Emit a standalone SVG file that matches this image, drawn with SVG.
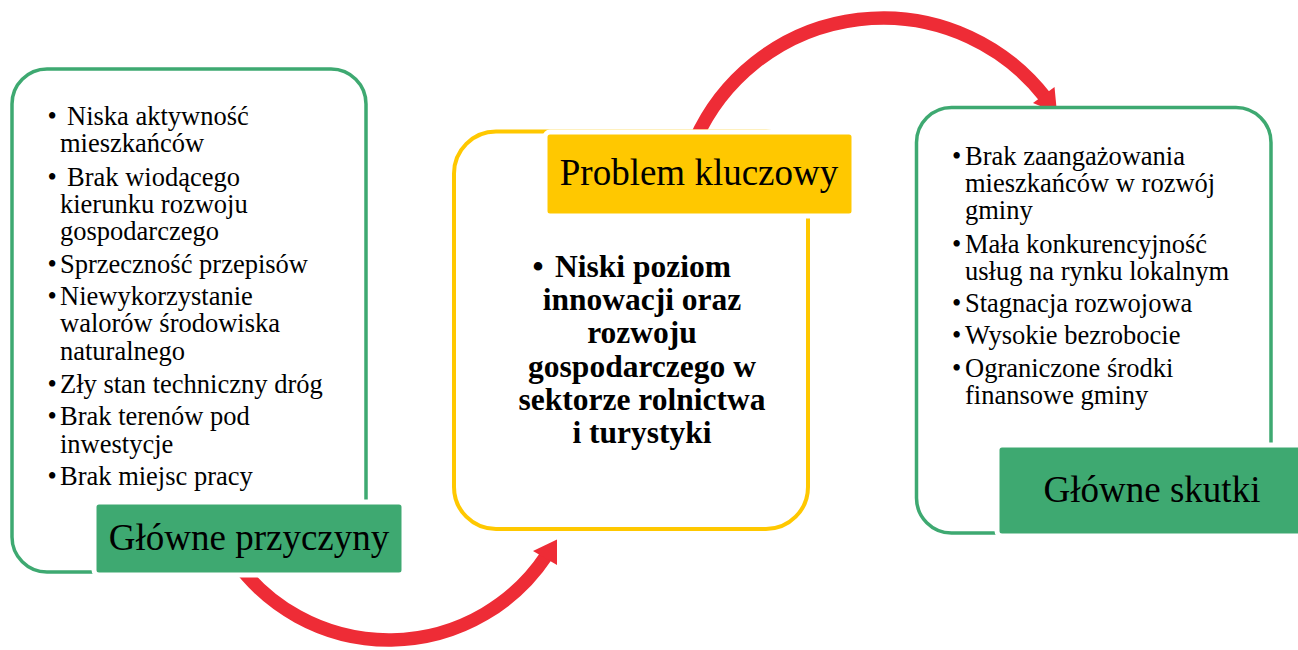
<svg xmlns="http://www.w3.org/2000/svg" width="1298" height="650" viewBox="0 0 1298 650" font-family="Liberation Serif, Tinos, Times New Roman, DejaVu Serif, serif">
  <style>
    .outline-g { fill: #ffffff; stroke: #3ea971; stroke-width: 3.5; }
    .outline-y { fill: #ffffff; stroke: #ffc800; stroke-width: 4; }
    .label-g { fill: #3ea971; stroke: #ffffff; stroke-width: 5; }
    .label-y { fill: #ffc800; stroke: #ffffff; stroke-width: 5; }
    .label-text { font-size: 37px; fill: #000000; text-anchor: middle; }
    .item { font-size: 26.5px; fill: #000000; }
    .key { font-size: 31.5px; font-weight: bold; fill: #000000; text-anchor: middle; }
    .arc { fill: none; stroke: #ee2c36; stroke-width: 13.5; }
    .head { fill: #ee2c36; stroke: none; }
  </style>

  <g id="connectors">
    <path class="arc" d="M234.2,559.4 A189,189 0 0 0 546.6,555.3"/>
    <polygon class="head" points="533,551 557,565 557,539.5"/>
    <path class="arc" d="M695.2,140 A205.6,205.6 0 0 1 1045.7,97.9"/>
    <polygon class="head" points="1033,103 1054.5,87 1057,113"/>
  </g>

  <g id="causes">
    <rect class="outline-g" x="12" y="69" width="354" height="503" rx="35" ry="35"/>
    <rect class="label-g" x="94" y="502" width="310" height="73" rx="5" ry="5"/>
    <text class="label-text" x="249" y="550">Główne przyczyny</text>
    <g class="item">
      <text x="47.5" y="125">•</text><text x="67" y="125">Niska aktywność</text>
      <text x="60" y="152">mieszkańców</text>
      <text x="47.5" y="186">•</text><text x="67" y="186">Brak wiodącego</text>
      <text x="60" y="213">kierunku rozwoju</text>
      <text x="60" y="239.5">gospodarczego</text>
      <text x="47.5" y="272.5">•</text><text x="60" y="272.5">Sprzeczność przepisów</text>
      <text x="47.5" y="304.5">•</text><text x="60" y="304.5">Niewykorzystanie</text>
      <text x="60" y="332">walorów środowiska</text>
      <text x="60" y="359.5">naturalnego</text>
      <text x="47.5" y="393">•</text><text x="60" y="393">Zły stan techniczny dróg</text>
      <text x="47.5" y="425">•</text><text x="60" y="425">Brak terenów pod</text>
      <text x="60" y="452.5">inwestycje</text>
      <text x="47.5" y="485">•</text><text x="60" y="485">Brak miejsc pracy</text>
    </g>
  </g>

  <g id="key-problem">
    <rect class="outline-y" x="454" y="131.5" width="354" height="397.5" rx="42" ry="42"/>
    <rect class="label-y" x="545" y="132" width="309" height="84" rx="5" ry="5"/>
    <text class="label-text" x="699" y="185">Problem kluczowy</text>
    <text class="key" x="538" y="277">•</text>
    <text class="key" x="555" y="277" style="text-anchor:start">Niski poziom</text>
    <text class="key" x="642" y="310">innowacji oraz</text>
    <text class="key" x="642" y="343">rozwoju</text>
    <text class="key" x="642" y="377">gospodarczego w</text>
    <text class="key" x="642" y="410">sektorze rolnictwa</text>
    <text class="key" x="642" y="443">i turystyki</text>
  </g>

  <g id="effects">
    <rect class="outline-g" x="916.5" y="107.5" width="354.5" height="425.5" rx="35" ry="35"/>
    <rect class="label-g" x="997" y="445" width="310" height="91" rx="5" ry="5"/>
    <text class="label-text" x="1152" y="502">Główne skutki</text>
    <g class="item">
      <text x="952" y="165">•</text><text x="965" y="165">Brak zaangażowania</text>
      <text x="965" y="192">mieszkańców w rozwój</text>
      <text x="965" y="218.5">gminy</text>
      <text x="952" y="253">•</text><text x="965" y="253">Mała konkurencyjność</text>
      <text x="965" y="280">usług na rynku lokalnym</text>
      <text x="952" y="312">•</text><text x="965" y="312">Stagnacja rozwojowa</text>
      <text x="952" y="343.5">•</text><text x="965" y="343.5">Wysokie bezrobocie</text>
      <text x="952" y="376.5">•</text><text x="965" y="376.5">Ograniczone środki</text>
      <text x="965" y="403.5">finansowe gminy</text>
    </g>
  </g>
</svg>
